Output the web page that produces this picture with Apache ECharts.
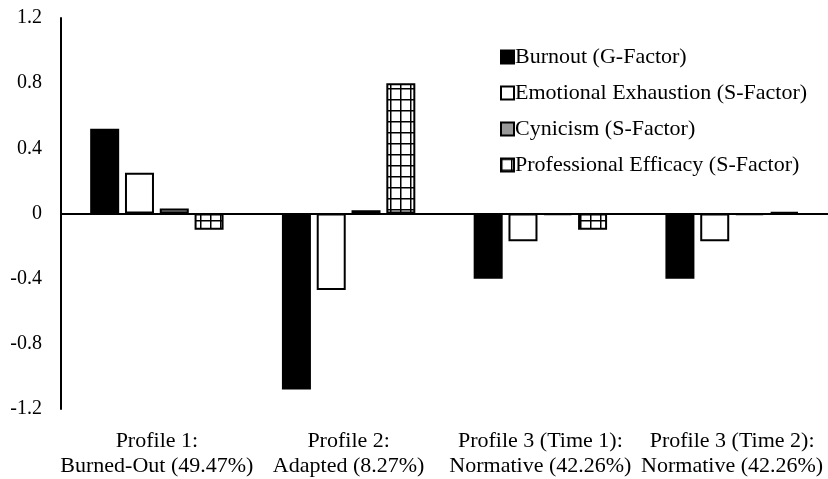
<!DOCTYPE html>
<html><head><meta charset="utf-8">
<script src="https://cdn.jsdelivr.net/npm/echarts@6/dist/echarts.min.js"></script>
<style>html,body{margin:0;padding:0;background:#fff}#c{width:828px;height:479px}</style>
</head><body><div id="c"></div>
<script>
const categories = ['Profile 1:\nBurned-Out (49.47%)', 'Profile 2:\nAdapted (8.27%)', 'Profile 3 (Time 1):\nNormative (42.26%)', 'Profile 3 (Time 2):\nNormative (42.26%)'];
const seriesNames = ['Burnout (G-Factor)', 'Emotional Exhaustion (S-Factor)', 'Cynicism (S-Factor)', 'Professional Efficacy (S-Factor)'];
const burnout = [0.52, -1.08, -0.40, -0.40];
const exhaustion = [0.25, -0.47, -0.17, -0.17];
const cynicism = [0.03, 0.02, -0.01, -0.01];
const efficacy = [-0.10, 0.80, -0.10, 0.01];
const yMin = -1.2, yMax = 1.2, yStep = 0.4;

const FONT = '"Liberation Serif", "Times New Roman", serif';
const pc = document.createElement('canvas');
pc.width = 10; pc.height = 11;
const ctx = pc.getContext('2d');
ctx.fillStyle = '#fff'; ctx.fillRect(0, 0, 10, 11);
ctx.fillStyle = '#000';
ctx.fillRect(0, 0, 10, 1.5);
ctx.fillRect(0, 0, 1.5, 11);
const hatch = {image: pc, repeat: 'repeat'};

const styles = [
  {color: '#000', borderColor: '#000', borderWidth: 2},
  {color: '#fff', borderColor: '#000', borderWidth: 2},
  {color: '#999', borderColor: '#000', borderWidth: 2},
  {color: hatch, borderColor: '#000', borderWidth: 2}
];
const values = [burnout, exhaustion, cynicism, efficacy];

const chart = echarts.init(document.getElementById('c'), null, {renderer: 'canvas'});
chart.setOption({
  animation: false,
  backgroundColor: '#fff',
  grid: {left: 61, right: 0, top: 18, bottom: 68, containLabel: false},
  legend: {
    orient: 'vertical', left: 495, top: 41,
    itemWidth: 13, itemHeight: 13, itemGap: 14,
    icon: 'rect',
    textStyle: {fontFamily: FONT, fontSize: 22, color: '#000', padding: [0, 0, 0, -4]},
    data: seriesNames
  },
  xAxis: [
    {type: 'category', data: categories, position: 'bottom',
     axisLine: {show: false, onZero: false}, axisTick: {show: false},
     axisLabel: {fontFamily: FONT, fontSize: 22, color: '#000', lineHeight: 25, margin: 20, interval: 0}},
    {type: 'category', data: categories, position: 'bottom',
     axisLine: {show: true, onZero: true, lineStyle: {color: '#000', width: 2}},
     axisTick: {show: false}, axisLabel: {show: false}}
  ],
  yAxis: {
    type: 'value', min: yMin, max: yMax, interval: yStep,
    axisLine: {show: true, lineStyle: {color: '#000', width: 2}},
    axisTick: {show: false},
    splitLine: {show: false},
    axisLabel: {fontFamily: FONT, fontSize: 20, color: '#000', margin: 19,
      formatter: v => { const r = Math.round(v * 10) / 10; return r === 0 ? '0' : r.toFixed(1); }}
  },
  series: seriesNames.map((n, i) => ({
    name: n, type: 'bar', xAxisIndex: 0, data: values[i],
    barWidth: 29, barGap: '20%', itemStyle: styles[i]
  }))
});
</script></body></html>
